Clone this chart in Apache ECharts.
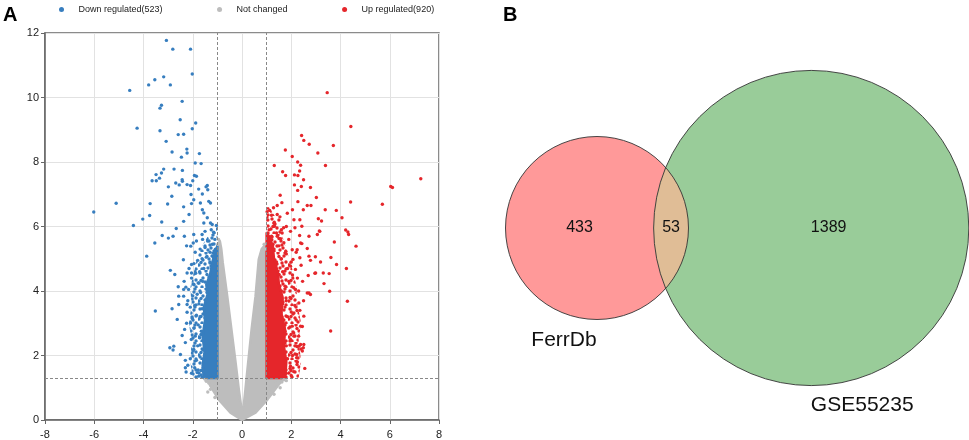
<!DOCTYPE html>
<html>
<head>
<meta charset="utf-8">
<script src="https://cdn.jsdelivr.net/npm/echarts@6/dist/echarts.min.js"></script>
<style>
  html, body { margin: 0; padding: 0; background: #fff; }
  #chart { width: 969px; height: 440px; }
</style>
</head>
<body>
<div id="chart"></div>
<script>
// ---- panel A data: log2FC, -log10(p) ----
const legendNames = ['Down regulated(523)', 'Not changed', 'Up regulated(920)']

const downPoints = [
  [-3.07, 11.77], [-2.81, 11.50], [-2.09, 11.50], [-2.02, 10.73], [-3.18, 10.64], [-3.54, 10.55], [-3.79, 10.39],
  [-2.91, 10.39], [-4.56, 10.22], [-2.43, 9.88], [-3.27, 9.76], [-3.33, 9.67], [-2.51, 9.31], [-1.88, 9.21],
  [-4.26, 9.05], [-2.02, 9.03], [-3.33, 8.97], [-2.59, 8.85], [-2.37, 8.86], [-3.08, 8.64], [-2.24, 8.40],
  [-2.84, 8.31], [-2.23, 8.28], [-1.73, 8.26], [-2.46, 8.15], [-1.90, 7.97], [-1.66, 7.95], [-2.76, 7.78],
  [-3.18, 7.78], [-2.42, 7.74], [-3.27, 7.66], [-3.49, 7.61], [-1.93, 7.58], [-1.85, 7.56], [-3.35, 7.50],
  [-2.43, 7.45], [-3.65, 7.42], [-3.48, 7.42], [-2.00, 7.42], [-2.42, 7.40], [-2.69, 7.35], [-2.23, 7.30],
  [-2.55, 7.29], [-2.09, 7.27], [-1.41, 7.27], [-2.99, 7.23], [-1.46, 7.23], [-1.76, 7.16], [-1.39, 7.14],
  [-2.07, 6.99], [-1.61, 7.01], [-2.85, 6.94], [-1.96, 6.83], [-1.35, 6.78], [-1.69, 6.73], [-1.28, 6.73],
  [-5.11, 6.72], [-3.73, 6.71], [-2.05, 6.71], [-3.02, 6.70], [-2.37, 6.61], [-1.61, 6.52], [-6.02, 6.45],
  [-1.55, 6.42], [-2.15, 6.37], [-3.75, 6.34], [-1.41, 6.27], [-4.03, 6.23], [-2.37, 6.16], [-3.26, 6.14],
  [-1.55, 6.11], [-1.28, 6.11], [-1.21, 6.06], [-4.41, 6.03], [-1.04, 6.03], [-2.67, 5.94],
  [-1.25, 5.90], [-1.50, 5.85], [-1.15, 5.82], [-1.96, 5.75], [-1.62, 5.75], [-3.24, 5.72], [-2.80, 5.70],
  [-2.34, 5.70], [-2.99, 5.64], [-1.60, 5.60], [-1.10, 5.60], [-1.85, 5.55], [-1.40, 5.55], [-3.54, 5.49],
  [-1.98, 5.49], [-1.20, 5.45], [-2.08, 5.39], [-1.50, 5.35], [-1.70, 5.30], [-1.08, 5.30], [-2.25, 5.40],
  [-1.30, 5.20], [-1.90, 5.20], [-3.87, 5.08], [-1.45, 5.05], [-1.15, 5.05], [-1.62, 5.00], [-2.38, 4.97],
  [-1.80, 4.95], [-1.30, 4.90], [-1.95, 4.85], [-2.05, 4.82], [-1.55, 4.70], [-2.15, 4.70], [-2.91, 4.64],
  [-1.72, 4.60], [-2.05, 4.56], [-2.23, 4.56], [-1.88, 4.55], [-2.73, 4.51], [-2.05, 4.40], [-2.35, 4.30],
  [-1.60, 4.30], [-1.78, 4.25], [-1.95, 4.20], [-2.59, 4.13], [-2.28, 4.12], [-2.37, 4.05], [-2.17, 4.05],
  [-1.68, 3.95], [-1.82, 3.90], [-2.00, 3.85], [-2.57, 3.84], [-2.37, 3.84], [-2.20, 3.70], [-1.75, 3.60],
  [-2.57, 3.58], [-2.23, 3.58], [-1.92, 3.55], [-2.10, 3.50], [-2.84, 3.45], [-1.62, 3.45], [-3.52, 3.38],
  [-2.23, 3.34], [-1.85, 3.25], [-1.70, 3.20], [-2.02, 3.15], [-2.63, 3.12], [-2.09, 3.01], [-2.25, 3.00],
  [-1.78, 2.95], [-1.95, 2.85], [-2.33, 2.81], [-1.65, 2.75], [-2.43, 2.62], [-1.90, 2.60], [-1.72, 2.55],
  [-2.06, 2.50], [-2.30, 2.40], [-1.80, 2.30], [-2.77, 2.29], [-2.93, 2.24], [-1.62, 2.20], [-1.96, 2.19],
  [-2.80, 2.17], [-1.98, 2.15], [-2.50, 2.03], [-1.70, 1.95], [-2.10, 1.90], [-1.85, 1.85], [-2.30, 1.85],
  [-2.20, 1.70], [-1.92, 1.62], [-2.30, 1.62], [-1.78, 1.55], [-2.27, 1.49], [-1.82, 1.47], [-2.05, 1.45],
  [-1.66, 1.40], [-1.76, 1.36]
]

const upPoints = [
  [3.46, 10.15], [4.42, 9.10], [2.42, 8.82], [2.51, 8.67], [2.73, 8.55], [3.71, 8.51], [1.76, 8.37],
  [3.08, 8.28], [2.04, 8.17], [2.26, 8.00], [2.38, 7.90], [1.31, 7.89], [3.39, 7.89], [2.34, 7.72],
  [1.65, 7.70], [2.13, 7.60], [1.77, 7.58], [2.27, 7.58], [7.26, 7.48], [2.50, 7.45], [2.13, 7.29],
  [2.41, 7.24], [6.04, 7.24], [2.78, 7.21], [6.11, 7.21], [2.26, 7.12], [1.55, 6.97], [3.02, 6.90],
  [2.27, 6.77], [4.41, 6.76], [1.62, 6.74], [5.70, 6.69], [1.43, 6.65], [2.65, 6.65], [2.80, 6.65],
  [1.28, 6.58], [2.05, 6.52], [2.49, 6.52], [3.38, 6.52], [1.12, 6.50], [3.83, 6.50], [1.02, 6.46],
  [1.84, 6.41], [1.43, 6.37], [1.20, 6.35], [1.54, 6.30], [4.06, 6.27], [3.10, 6.24], [2.11, 6.21],
  [2.35, 6.21], [1.05, 6.20], [1.50, 6.20], [3.23, 6.17], [1.31, 6.13], [1.30, 6.10], [2.43, 6.01],
  [1.32, 6.01], [1.80, 6.00], [1.69, 5.96], [2.15, 5.96], [1.60, 5.90], [1.10, 5.90], [4.21, 5.89],
  [3.16, 5.85], [1.97, 5.85], [4.30, 5.83], [1.63, 5.80], [1.40, 5.80], [3.14, 5.86], [4.33, 5.75],
  [3.06, 5.75], [2.34, 5.72], [1.43, 5.70], [2.72, 5.70], [1.20, 5.70], [1.57, 5.62], [1.90, 5.60],
  [1.21, 5.59], [3.75, 5.52], [1.70, 5.50], [2.38, 5.49], [2.43, 5.47], [1.50, 5.40], [4.63, 5.39],
  [2.65, 5.32], [1.30, 5.30], [2.24, 5.28], [2.04, 5.28], [1.78, 5.23], [2.20, 5.20], [1.80, 5.15],
  [2.72, 5.08], [2.98, 5.06], [3.61, 5.04], [2.35, 5.03], [1.60, 5.00], [2.07, 4.98], [2.78, 4.95],
  [1.40, 4.90], [2.00, 4.90], [3.19, 4.90], [3.84, 4.82], [2.40, 4.80], [1.97, 4.77], [1.85, 4.70],
  [4.24, 4.70], [2.17, 4.67], [1.65, 4.60], [2.99, 4.56], [3.30, 4.56], [2.96, 4.55], [3.54, 4.54],
  [1.50, 4.50], [2.05, 4.50], [2.69, 4.48], [2.25, 4.40], [2.46, 4.30], [1.90, 4.30], [3.33, 4.23],
  [1.75, 4.15], [2.10, 4.10], [2.17, 4.05], [1.60, 4.00], [2.30, 4.00], [3.56, 3.99], [2.72, 3.94],
  [2.65, 3.94], [2.78, 3.89], [1.95, 3.80], [1.80, 3.70], [4.28, 3.68], [2.50, 3.70], [2.31, 3.63],
  [1.65, 3.60], [2.15, 3.55], [2.35, 3.40], [2.00, 3.35], [2.11, 3.32], [2.51, 3.22], [1.85, 3.20],
  [2.20, 3.10], [1.70, 3.10], [2.38, 2.91], [2.04, 2.91], [2.45, 2.90], [1.90, 2.85], [3.60, 2.76],
  [1.75, 2.75], [2.10, 2.70], [2.30, 2.60], [2.11, 2.60], [1.97, 2.50], [1.95, 2.45], [2.51, 2.34],
  [2.38, 2.34], [2.15, 2.30], [2.31, 2.29], [1.80, 2.30], [2.49, 2.24], [2.40, 2.20], [2.45, 2.14],
  [2.22, 2.03], [2.05, 2.00], [2.22, 1.93], [1.85, 1.90], [2.25, 1.80], [1.97, 1.67], [1.95, 1.60],
  [2.55, 1.60], [1.57, 1.52], [2.10, 1.50], [1.80, 1.45], [2.00, 1.38], [1.70, 1.36]
]

const flatPoints = [
  [-1.39, 0.87], [-1.21, 1.05], [-1.35, 1.15], [-1.28, 0.95], [-1.45, 1.20], [-1.10, 0.70], [-1.50, 1.26],
  [1.40, 1.15], [1.55, 1.00], [1.70, 1.25], [1.30, 0.80], [1.62, 1.18], [1.80, 1.22],
  [-0.95, 5.60], [-0.98, 5.45], [0.90, 5.45], [0.95, 5.30]
]

// outlines of the dense point clouds (dense core and looser band)
const flatCloud = [
  [0.00, 0.00], [-0.47, 0.23], [-0.95, 0.64], [-1.28, 1.05], [-1.40, 1.25], [-1.30, 1.30], [-1.00, 1.30],
  [-1.00, 5.00], [-0.97, 5.45], [-0.90, 5.55], [-0.84, 5.30], [-0.78, 4.87], [-0.60, 3.84], [-0.43, 2.81],
  [-0.26, 1.78], [-0.13, 0.95], [-0.04, 0.45], [0.02, 0.30], [0.07, 0.45], [0.14, 0.95], [0.25, 1.78],
  [0.39, 2.81], [0.55, 3.84], [0.68, 4.98], [0.80, 5.30], [0.93, 5.42], [1.00, 5.10], [1.00, 1.30],
  [1.50, 1.30], [1.65, 1.25], [1.44, 1.05], [1.04, 0.64], [0.55, 0.23]
]
const upCore = [
  [1.00, 1.30], [1.75, 1.30], [1.80, 1.80], [1.70, 2.30], [1.75, 2.80], [1.60, 3.30], [1.65, 3.80],
  [1.50, 4.20], [1.45, 4.60], [1.30, 5.00], [1.25, 5.40], [1.10, 5.70], [1.00, 5.80]
]
const upBand = [
  [1.00, 1.30], [2.30, 1.30], [2.40, 1.80], [2.30, 2.50], [2.40, 3.00], [2.25, 3.60], [2.20, 4.20],
  [2.00, 4.80], [1.80, 5.30], [1.60, 5.80], [1.35, 6.30], [1.10, 6.60], [1.00, 6.60]
]
const downCore = [
  [-1.00, 1.30], [-1.55, 1.30], [-1.60, 1.70], [-1.52, 2.10], [-1.60, 2.60], [-1.50, 3.10], [-1.55, 3.50],
  [-1.40, 3.90], [-1.45, 4.20], [-1.30, 4.50], [-1.20, 4.90], [-1.10, 5.20], [-1.00, 5.40]
]
const downBand = [
  [-1.00, 1.30], [-2.00, 1.30], [-2.10, 1.80], [-2.05, 2.40], [-2.15, 3.00], [-2.05, 3.60], [-2.10, 4.10],
  [-1.95, 4.60], [-1.80, 5.10], [-1.55, 5.50], [-1.30, 5.80], [-1.00, 6.00]
]

const fcCut = [-1, 1]
const pCut = 1.301

// ---- panel B data ----
const vennNames = ['FerrDb', 'GSE55235']
const vennOnly = [433, 1389]
const vennShared = 53

const font = 'Liberation Sans, Arial, Helvetica, sans-serif'
const colors = { down: '#377ebf', flat: '#bdbdbd', up: '#e5262b' }

// texture for the looser part of a cloud: dots in an 18px tile
const tileDots = [[2, 3], [8, 1], [14, 4], [5, 8], [11, 7], [16, 10], [1, 13], [7, 12], [13, 14],
  [4, 17], [10, 16], [16, 17], [9, 4.5], [3, 10.5], [15, 1], [12, 11]]
function dotPattern (color) {
  const c = document.createElement('canvas')
  c.width = 18
  c.height = 18
  const g = c.getContext('2d')
  g.fillStyle = color
  tileDots.forEach(p => {
    g.beginPath()
    g.arc(p[0], p[1], 1.7, 0, Math.PI * 2)
    g.fill()
  })
  return { image: c, repeat: 'repeat' }
}

// Venn geometry: circle area proportional to set size
const vennScale = 4.15
const setSize = vennOnly.map(n => n + vennShared)
const r1 = vennScale * Math.sqrt(setSize[0])
const r2 = vennScale * Math.sqrt(setSize[1])
function lensArea (d) {
  const a1 = Math.acos((d * d + r1 * r1 - r2 * r2) / (2 * d * r1))
  const a2 = Math.acos((d * d + r2 * r2 - r1 * r1) / (2 * d * r2))
  const k = Math.sqrt((-d + r1 + r2) * (d + r1 - r2) * (d - r1 + r2) * (d + r1 + r2))
  return r1 * r1 * a1 + r2 * r2 * a2 - 0.5 * k
}
const targetLens = Math.PI * vennScale * vennScale * vennShared
let lo = r2 - r1 + 0.01
let hi = r1 + r2 - 0.01
for (let i = 0; i < 60; i++) {
  const mid = (lo + hi) / 2
  if (lensArea(mid) > targetLens) lo = mid
  else hi = mid
}
const dist = (lo + hi) / 2
const cy = 228
const cxA = 107
const cxB = cxA + dist
const vennCircles = [[cxA, cy, r1], [cxB, cy, r2]]
const vennTexts = [
  [((cxA - r1) + (cxB - r2)) / 2, cy, String(vennOnly[0]), 16],
  [((cxB - r2) + (cxA + r1)) / 2, cy, String(vennShared), 16],
  [((cxA + r1) + (cxB + r2)) / 2, cy, String(vennOnly[1]), 16],
  [cxA - 33, cy + r1 + 21, vennNames[0], 21],
  [cxB + 51, cy + r2 + 20, vennNames[1], 21]
]

function cloudSeries (name, pts, fill, stroke) {
  return {
    type: 'custom',
    name: name,
    xAxisIndex: 0,
    yAxisIndex: 0,
    data: [0],
    silent: true,
    z: 2,
    renderItem: (params, api) => ({
      type: 'polygon',
      shape: { points: pts.map(p => api.coord(p)) },
      style: { fill: fill, stroke: stroke || 'none', lineWidth: 2.5, lineJoin: 'round' }
    })
  }
}

function scatterSeries (name, pts, color) {
  return {
    type: 'scatter',
    name: name,
    xAxisIndex: 0,
    yAxisIndex: 0,
    data: pts,
    symbol: 'circle',
    symbolSize: 3.4,
    z: 3,
    itemStyle: { color: color, opacity: 1 },
    silent: true
  }
}

const axisCommon = {
  type: 'value',
  axisLine: { show: true, onZero: false, lineStyle: { color: '#666', width: 1.5 } },
  axisTick: { show: true, length: 4, lineStyle: { color: '#666' } },
  splitLine: { show: true, lineStyle: { color: '#e2e2e2', width: 1 } }
}

const myChart = echarts.init(document.getElementById('chart'))
myChart.setOption({
  animation: false,
  backgroundColor: '#fff',
  title: [
    { text: 'A', left: 3, top: 5, padding: 0, textStyle: { fontSize: 20, fontWeight: 'bold', color: '#000', fontFamily: font } },
    { text: 'B', left: 503, top: 5, padding: 0, textStyle: { fontSize: 20, fontWeight: 'bold', color: '#000', fontFamily: font } }
  ],
  legend: {
    data: legendNames,
    left: 54,
    top: 0,
    icon: 'circle',
    itemWidth: 24,
    itemHeight: 5,
    itemGap: 54.5,
    selectedMode: false,
    textStyle: { fontSize: 9, color: '#222', fontFamily: font }
  },
  grid: [
    { left: 45, right: 530, top: 33, bottom: 20, show: true, borderColor: '#666', borderWidth: 1.5 },
    { left: 490, top: 0, width: 479, height: 440 }
  ],
  xAxis: [
    Object.assign({}, axisCommon, {
      gridIndex: 0, min: -8, max: 8, interval: 2,
      axisLabel: { fontSize: 11, color: '#222', fontFamily: font, margin: 9 }
    }),
    { type: 'value', gridIndex: 1, min: 0, max: 479, show: false }
  ],
  yAxis: [
    Object.assign({}, axisCommon, {
      gridIndex: 0, min: 0, max: 12, interval: 2,
      axisLabel: { fontSize: 11, color: '#222', fontFamily: font, margin: 6 }
    }),
    { type: 'value', gridIndex: 1, min: 0, max: 440, inverse: true, show: false }
  ],
  series: [
    {
      type: 'scatter',
      name: 'cutoffs',
      xAxisIndex: 0,
      yAxisIndex: 0,
      data: [],
      z: 1,
      markLine: {
        silent: true,
        symbol: 'none',
        label: { show: false },
        lineStyle: { color: '#888', type: [3, 2], width: 1 },
        data: [{ xAxis: fcCut[0] }, { xAxis: fcCut[1] }, { yAxis: pCut }]
      }
    },
    cloudSeries('flatCloud', flatCloud, colors.flat, colors.flat),
    cloudSeries('downBand', downBand, dotPattern(colors.down)),
    cloudSeries('downCore', downCore, colors.down, colors.down),
    cloudSeries('upBand', upBand, dotPattern(colors.up)),
    cloudSeries('upCore', upCore, colors.up, colors.up),
    scatterSeries(legendNames[0], downPoints, colors.down),
    scatterSeries(legendNames[1], flatPoints, colors.flat),
    scatterSeries(legendNames[2], upPoints, colors.up),
    // Venn fills
    {
      type: 'custom',
      name: 'vennFill',
      xAxisIndex: 1,
      yAxisIndex: 1,
      data: vennCircles,
      silent: true,
      z: 2,
      renderItem: (params, api) => {
        const c = api.coord([api.value(0), api.value(1)])
        const r = api.size([api.value(2), api.value(2)])[0]
        return {
          type: 'circle',
          shape: { cx: c[0], cy: c[1], r: r },
          style: { fill: params.dataIndex === 0 ? '#ff9999' : '#99cc99' }
        }
      }
    },
    // overlap lens
    {
      type: 'custom',
      name: 'vennLens',
      xAxisIndex: 1,
      yAxisIndex: 1,
      data: [0],
      silent: true,
      z: 3,
      renderItem: (params, api) => {
        const pa = api.coord([cxA, cy])
        const pb = api.coord([cxB, cy])
        const ra = api.size([r1, r1])[0]
        const rb = api.size([r2, r2])[0]
        const d = pb[0] - pa[0]
        const a = (d * d + ra * ra - rb * rb) / (2 * d)
        const h = Math.sqrt(ra * ra - a * a)
        const t0 = Math.atan2(h, a)
        const f0 = Math.atan2(h, d - a)
        const pts = []
        const n = 48
        for (let i = 0; i <= n; i++) {
          const t = -t0 + (2 * t0 * i) / n
          pts.push([pa[0] + ra * Math.cos(t), pa[1] + ra * Math.sin(t)])
        }
        for (let i = 0; i <= n; i++) {
          const t = Math.PI - f0 + (2 * f0 * i) / n
          pts.push([pb[0] + rb * Math.cos(t), pb[1] + rb * Math.sin(t)])
        }
        return { type: 'polygon', shape: { points: pts }, style: { fill: '#e0bd96' } }
      }
    },
    // Venn outlines
    {
      type: 'custom',
      name: 'vennLine',
      xAxisIndex: 1,
      yAxisIndex: 1,
      data: vennCircles,
      silent: true,
      z: 4,
      renderItem: (params, api) => {
        const c = api.coord([api.value(0), api.value(1)])
        const r = api.size([api.value(2), api.value(2)])[0]
        return {
          type: 'circle',
          shape: { cx: c[0], cy: c[1], r: r },
          style: { fill: 'none', stroke: '#333', lineWidth: 0.9 }
        }
      }
    },
    // Venn texts
    {
      type: 'custom',
      name: 'vennText',
      xAxisIndex: 1,
      yAxisIndex: 1,
      data: vennTexts,
      silent: true,
      z: 5,
      renderItem: (params, api) => {
        const item = vennTexts[params.dataIndex]
        const c = api.coord([item[0], item[1]])
        return {
          type: 'text',
          x: c[0],
          y: c[1],
          style: {
            text: item[2],
            fontSize: item[3],
            fontFamily: font,
            fill: '#111',
            align: 'center',
            verticalAlign: 'middle'
          }
        }
      }
    }
  ]
})
</script>
</body>
</html>
